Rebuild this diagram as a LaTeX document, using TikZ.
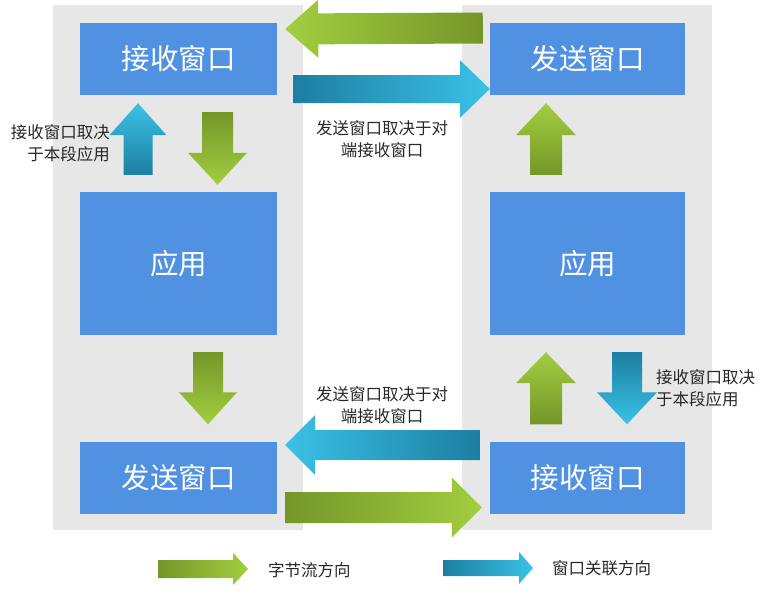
\documentclass[tikz,border=0pt]{standalone}
\usepackage{fontspec}
\setmainfont{Noto Sans CJK SC}
\usetikzlibrary{calc}
\definecolor{panelGray}{RGB}{231,231,231}
\definecolor{winBlue}{RGB}{80,145,226}
\definecolor{flowDark}{RGB}{116,150,40}
\definecolor{flowLight}{RGB}{162,206,64}
\definecolor{linkDark}{RGB}{28,126,162}
\definecolor{linkLight}{RGB}{58,194,230}
\definecolor{labelGray}{RGB}{40,40,40}

\newcommand{\fatarrow}[6]{%
  \coordinate (fa-t) at #2;
  \coordinate (fa-p) at #3;
  \coordinate (fa-b) at ($(fa-p)!#6!(fa-t)$);
  \path[#1] ($(fa-t)!#4!90:(fa-p)$) -- ($(fa-b)!#4!90:(fa-p)$) -- ($(fa-b)!#5!90:(fa-p)$)
    -- (fa-p) -- ($(fa-b)!#5!-90:(fa-p)$) -- ($(fa-b)!#4!-90:(fa-p)$) -- ($(fa-t)!#4!-90:(fa-p)$) -- cycle;
}

\begin{document}
\begin{tikzpicture}[x=1pt,y=-1pt,
  winbox/.style={fill=winBlue,text=white,font=\fontsize{28.5}{30}\selectfont,minimum width=197pt,minimum height=72pt,inner sep=0pt},
  note/.style={text=labelGray,font=\fontsize{16.5}{22}\selectfont,inner sep=0pt},
  flowToR/.style={left color=flowDark,right color=flowLight},
  flowToL/.style={left color=flowLight,right color=flowDark},
  flowUp/.style={top color=flowLight,bottom color=flowDark},
  flowDown/.style={top color=flowDark,bottom color=flowLight},
  linkToR/.style={left color=linkDark,right color=linkLight},
  linkToL/.style={left color=linkLight,right color=linkDark},
  linkUp/.style={top color=linkLight,bottom color=linkDark},
  linkDown/.style={top color=linkDark,bottom color=linkLight}]
\useasboundingbox (0,0) rectangle (762,594);
\fill[panelGray] (53,5) rectangle (303,530);
\fill[panelGray] (462,5) rectangle (712,530);

\node[winbox] (rcvL) at (178.5,59) {接收窗口};
\node[winbox,minimum height=143pt] (appL) at (178.5,263.5) {应用};
\node[winbox] (sndL) at (178.5,477.5) {发送窗口};
\node[winbox,minimum width=195pt] (sndR) at (587.5,59) {发送窗口};
\node[winbox,minimum width=195pt,minimum height=143pt] (appR) at (587.5,263.5) {应用};
\node[winbox,minimum width=195pt] (rcvR) at (587.5,477.5) {接收窗口};

\fatarrow{flowToL}{($(sndR.west)+(-7,-31)$)}{($(rcvL.east)+(8,-30)$)}{15.5pt}{29pt}{33pt}
\fatarrow{linkToR}{($(rcvL.east)+(16,30)$)}{($(sndR.west)+(0,30)$)}{14pt}{29pt}{30pt}
\node[note,align=center] (noteTop) at (382,139) {发送窗口取决于对\\端接收窗口};

\fatarrow{linkUp}{($(appL.north)+(-40.5,-17)$)}{($(rcvL.south)+(-40.5,8)$)}{14.5pt}{28.5pt}{32pt}
\fatarrow{flowDown}{($(rcvL.south)+(39,17)$)}{($(appL.north)+(39,-7)$)}{15.5pt}{29.5pt}{32pt}
\node[note,align=right,anchor=east] (noteL) at (110,143) {接收窗口取决\\于本段应用};

\fatarrow{flowUp}{($(appR.north)+(-41.5,-17)$)}{($(sndR.south)+(-41.5,8)$)}{16pt}{30pt}{32pt}

\fatarrow{flowDown}{($(appL.south)+(29.5,17)$)}{($(sndL.north)+(29.5,-17)$)}{15pt}{29pt}{32pt}
\fatarrow{flowUp}{($(rcvR.north)+(-41.5,-17)$)}{($(appR.south)+(-41.5,17)$)}{16pt}{30pt}{31pt}
\fatarrow{linkDown}{($(appR.south)+(39.5,17)$)}{($(rcvR.north)+(39.5,-17)$)}{15pt}{30pt}{32pt}
\node[note,align=left,anchor=west] (noteR) at (656,388) {接收窗口取决\\于本段应用};

\node[note,align=center] (noteBot) at (382,405) {发送窗口取决于对\\端接收窗口};
\fatarrow{linkToL}{($(rcvR.west)+(-10,-32.5)$)}{($(sndL.east)+(8,-32.5)$)}{15pt}{30pt}{30pt}
\fatarrow{flowToR}{($(sndL.east)+(8,30)$)}{($(rcvR.west)+(-8,30)$)}{15.5pt}{30pt}{30pt}

\node[note,anchor=west] (keyFlow) at (268,570) {字节流方向};
\node[note,anchor=west] (keyLink) at (552,568) {窗口关联方向};
\fatarrow{flowToR}{($(keyFlow.west)+(-110,-1)$)}{($(keyFlow.west)+(-20,-1)$)}{9pt}{16pt}{15pt}
\fatarrow{linkToR}{($(keyLink.west)+(-109,0)$)}{($(keyLink.west)+(-19,0)$)}{8pt}{16pt}{14pt}
\end{tikzpicture}
\end{document}
